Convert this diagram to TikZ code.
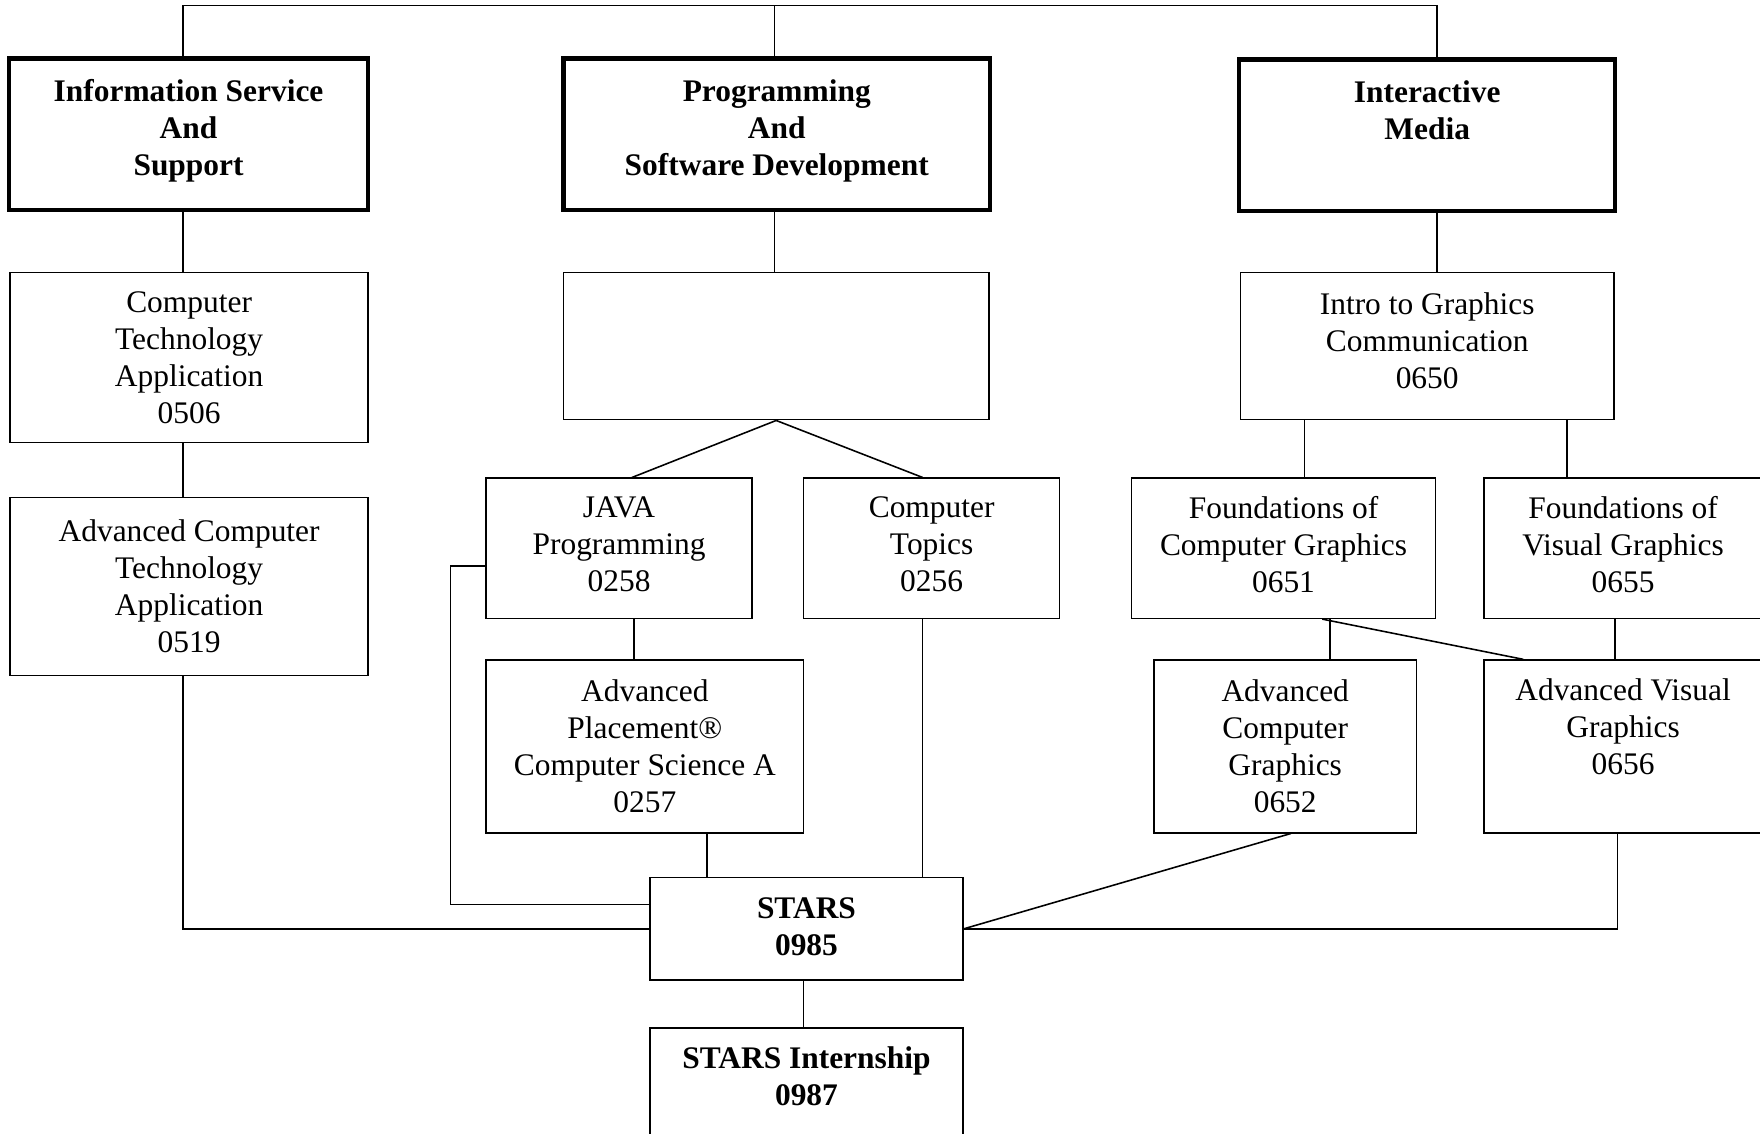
\documentclass[tikz,border=0pt]{standalone}
\usepackage{fontspec}
\setmainfont{Liberation Serif}
\newcommand{\boxFont}{\fontsize{14pt}{16.5pt}\selectfont}

\begin{document}
\begin{tikzpicture}[%%
  x=0.5pt,y=-0.5pt,%%
  boxStyle/.style={draw,line width=0.6pt,align=center,inner sep=0pt,font=\boxFont},%%
  headStyle/.style={boxStyle,line width=2pt,font=\boxFont\bfseries,text depth=6pt},%%
  boxSize/.style 2 args={minimum width=#1*0.5pt,minimum height=#2*0.5pt},%%
  lineStyle/.style={-,line width=0.7pt}
]
\useasboundingbox (0,0) rectangle (1568,1010);
%%
%% The three pathways.
\node[headStyle,boxSize={320}{135}] (infoService) at (168,119.5)
  {Information Service\\And\\Support};
\node[headStyle,boxSize={380}{135}] (progDev) at (692,119.5)
  {Programming\\And\\Software Development};
\node[headStyle,boxSize={335}{135}] (interMedia) at (1271.5,120.5)
  {Interactive\\Media\\\mbox{}};
%%
%% Information Service and Support.
\node[boxStyle,boxSize={319}{151}] (compTech) at (168.5,318.5)
  {Computer\\Technology\\Application\\0506};
\node[boxStyle,boxSize={319}{159}] (advCompTech) at (168.5,522.5)
  {Advanced Computer\\Technology\\Application\\0519};
%%
%% Programming and Software Development.
\node[boxStyle,boxSize={379}{131}] (progBlank) at (691.5,308.5) {};
\node[boxStyle,boxSize={237}{125},text depth=3.5pt] (javaProg) at (551.5,488.5)
  {JAVA\\Programming\\0258};
\node[boxStyle,boxSize={228}{125},text depth=3.5pt] (compTopics) at (830,488.5)
  {Computer\\Topics\\0256};
\node[boxStyle,boxSize={283}{154}] (apCompSci) at (574.5,665)
  {Advanced\\Placement®\\Computer Science A\\0257};
%%
%% Interactive Media.
\node[boxStyle,boxSize={333}{131},text depth=5pt] (introGraphics) at (1271.5,308.5)
  {Intro to Graphics\\Communication\\0650};
\node[boxStyle,boxSize={271}{125},text depth=3.5pt] (foundCompGraph) at (1143.5,488.5)
  {Foundations of\\Computer Graphics\\0651};
\node[boxStyle,boxSize={248}{125},text depth=3.5pt] (foundVisGraph) at (1446,488.5)
  {Foundations of\\Visual Graphics\\0655};
\node[boxStyle,boxSize={234}{154}] (advCompGraph) at (1145,665)
  {Advanced\\Computer\\Graphics\\0652};
\node[boxStyle,boxSize={248}{154},text depth=1pt] (advVisGraph) at (1446,665)
  {Advanced Visual\\Graphics\\0656\\\mbox{}};
%%
%% STARS.
\node[boxStyle,boxSize={279}{91},text depth=2pt] (stars) at (718.5,827.5)
  {\textbf{STARS}\\\textbf{0985}};
\node[boxStyle,boxSize={279}{110}] (starsIntern) at (718.5,971) {};
\node[align=center,inner sep=0pt,font=\boxFont\bfseries] (starsInternText) at (718.5,958.5)
  {STARS Internship\\0987};
%%
%% The top bus.
\draw[lineStyle] ([xshift=-2.5pt]infoService.north) -- ++(0,-45) -| ([xshift=4.25pt]interMedia.north);
\draw[lineStyle] ([xshift=-1pt]progDev.north) -- ++(0,-45);
%%
%% Down from the pathways.
\draw[lineStyle] ([xshift=-2.5pt]infoService.south) -- ([xshift=-2.75pt]compTech.north);
\draw[lineStyle] ([xshift=-2.75pt]compTech.south) -- ([xshift=-2.75pt]advCompTech.north);
\draw[lineStyle] ([xshift=-1pt]progDev.south) -- ([xshift=-0.75pt]progBlank.north);
\draw[lineStyle] ([xshift=4.25pt]interMedia.south) -- ([xshift=4.25pt]introGraphics.north);
%%
%% Programming branch.
\draw[lineStyle] (progBlank.south) -- ([xshift=5.75pt]javaProg.north);
\draw[lineStyle] (progBlank.south) -- ([xshift=-4pt]compTopics.north);
\draw[lineStyle] ([xshift=6.75pt]javaProg.south) -- ([xshift=-4.75pt]apCompSci.north);
\draw[lineStyle] ([xshift=27.75pt]apCompSci.south) -- ([xshift=-44.25pt]stars.north);
\draw[lineStyle] ([xshift=-4pt]compTopics.south) -- ([xshift=51.75pt]stars.north);
\draw[lineStyle] ([yshift=-7.75pt]javaProg.west) -- ++(-31,0) |- ([yshift=10.75pt]stars.west);
%%
%% Graphics branch.
\draw[lineStyle] ([xshift=-54.75pt]introGraphics.south) -- ([xshift=9.25pt]foundCompGraph.north);
\draw[lineStyle] ([xshift=62.25pt]introGraphics.south) -- ([xshift=-25pt]foundVisGraph.north);
\draw[lineStyle] ([xshift=20.75pt]foundCompGraph.south) -- ([xshift=20pt]advCompGraph.north);
\draw[lineStyle] ([xshift=17.25pt]foundCompGraph.south) -- ([xshift=-44.5pt]advVisGraph.north);
\draw[lineStyle] ([xshift=-3.5pt]foundVisGraph.south) -- ([xshift=-3.5pt]advVisGraph.north);
%%
%% Into STARS.
\draw[lineStyle] ([xshift=-2.75pt]advCompTech.south) |- (stars.west);
\draw[lineStyle] ([xshift=2.5pt]advCompGraph.south) -- (stars.east);
\draw[lineStyle] ([xshift=-2.5pt]advVisGraph.south) |- (stars.east);
\draw[lineStyle] ([xshift=-1.25pt]stars.south) -- ([xshift=-1.25pt]starsIntern.north);
\end{tikzpicture}
\end{document}
